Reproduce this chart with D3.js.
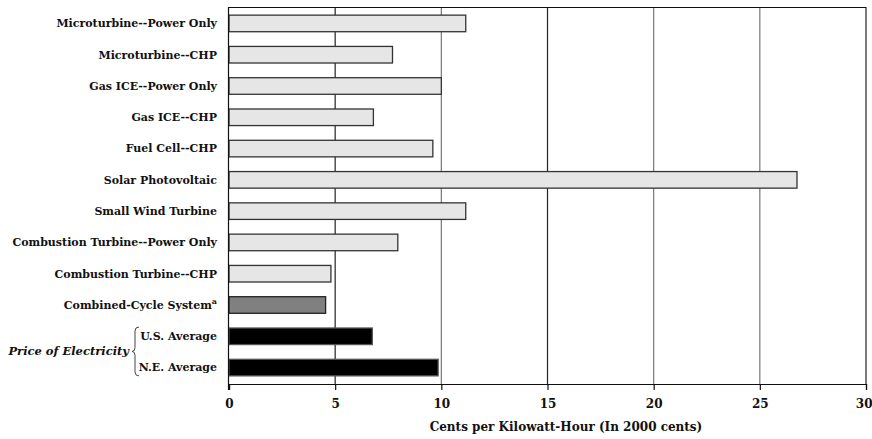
<!DOCTYPE html>
<html>
<head>
<meta charset="utf-8">
<script src="https://cdn.jsdelivr.net/npm/d3@7"></script>
<style>
  body { margin: 0; background: #fff; }
  svg text { font-family: "DejaVu Serif", "Liberation Serif", serif; font-weight: bold; fill: #111; }
</style>
</head>
<body>
<div id="chart"></div>
<script>
//////////////////////////// data /////////////////////////////////////////

const categories = [
  "Microturbine--Power Only",
  "Microturbine--CHP",
  "Gas ICE--Power Only",
  "Gas ICE--CHP",
  "Fuel Cell--CHP",
  "Solar Photovoltaic",
  "Small Wind Turbine",
  "Combustion Turbine--Power Only",
  "Combustion Turbine--CHP",
  "Combined-Cycle System",
  "U.S. Average",
  "N.E. Average"
];
const values = [11.15, 7.7, 10.0, 6.8, 9.6, 26.75, 11.15, 7.95, 4.8, 4.55, 6.75, 9.85];
const groups = ["dg", "dg", "dg", "dg", "dg", "dg", "dg", "dg", "dg", "cc", "price", "price"];
const xTicks = [0, 5, 10, 15, 20, 25, 30];
const xTitle = "Cents per Kilowatt-Hour (In 2000 cents)";
const priceLabel = "Price of Electricity";

//////////////////////////// sizes ////////////////////////////////////////

const width = 872, height = 439;
const margin = { top: 7, right: 6, bottom: 55, left: 229 };

const svg = d3.select("#chart").append("svg")
  .attr("width", width).attr("height", height);

//////////////////////////// scales ///////////////////////////////////////

const xScale = d3.scaleLinear()
  .domain([0, 30])
  .range([margin.left, width - margin.right]);

const yScale = d3.scaleBand()
  .domain(categories)
  .range([margin.top, height - margin.bottom])
  .paddingInner(0.47)
  .paddingOuter(0.26);

const fillScale = d3.scaleOrdinal()
  .domain(["dg", "cc", "price"])
  .range(["#e6e6e6", "#808080", "#000000"]);
const strokeScale = d3.scaleOrdinal()
  .domain(["dg", "cc", "price"])
  .range(["#333", "#222", "#555"]);

const yTop = margin.top, yBot = height - margin.bottom;

//////////////////////////// grid /////////////////////////////////////////

svg.append("g").selectAll("line")
  .data(xTicks.slice(1))
  .join("line")
  .attr("x1", d => xScale(d)).attr("x2", d => xScale(d))
  .attr("y1", yTop).attr("y2", yBot)
  .attr("stroke", d => (d === 15 || d === 5 || d === 30) ? "#222" : "#777")
  .attr("stroke-width", 1.2);

// top frame line
svg.append("line")
  .attr("x1", xScale(0)).attr("x2", xScale(30))
  .attr("y1", yTop + 0.5).attr("y2", yTop + 0.5)
  .attr("stroke", "#111");

//////////////////////////// bars /////////////////////////////////////////

svg.append("g").selectAll("rect")
  .data(categories)
  .join("rect")
  .attr("x", xScale(0))
  .attr("y", d => yScale(d))
  .attr("width", (d, i) => xScale(values[i]) - xScale(0))
  .attr("height", yScale.bandwidth())
  .attr("fill", (d, i) => fillScale(groups[i]))
  .attr("stroke", (d, i) => strokeScale(groups[i]))
  .attr("stroke-width", 1.3);

//////////////////////////// axes /////////////////////////////////////////

const xAxis = svg.append("g")
  .attr("transform", `translate(0,${yBot})`)
  .call(d3.axisBottom(xScale).tickValues(xTicks).tickSize(6).tickPadding(9));
xAxis.select(".domain").attr("stroke", "#111").attr("stroke-width", 1.2);
xAxis.selectAll(".tick line").attr("stroke", "#111").attr("stroke-width", 1.2);
xAxis.selectAll(".tick text").attr("font-size", 12);
// last label sits on the right edge, keep it inside the window
xAxis.selectAll(".tick text").filter(d => d === 30)
  .attr("text-anchor", "end").attr("x", 6);

// left axis line
svg.append("line")
  .attr("x1", xScale(0) - 0.5).attr("x2", xScale(0) - 0.5)
  .attr("y1", yTop).attr("y2", yBot + 6)
  .attr("stroke", "#111").attr("stroke-width", 1.2);

svg.append("text")
  .attr("x", 566)
  .attr("y", yBot + 43)
  .attr("dy", "0.35em")
  .attr("text-anchor", "middle")
  .attr("font-size", 12)
  .text(xTitle);

//////////////////////////// labels ///////////////////////////////////////

const labels = svg.append("g").selectAll("text")
  .data(categories)
  .join("text")
  .attr("x", margin.left - 12)
  .attr("y", d => yScale(d) + yScale.bandwidth() / 2)
  .attr("dy", "0.35em")
  .attr("text-anchor", "end")
  .attr("font-size", 11)
  .text(d => d);

// superscript on combined-cycle
labels.filter(d => d === "Combined-Cycle System")
  .append("tspan")
  .attr("font-size", 8)
  .attr("dy", "-0.6em")
  .text("a");

// brace + group label for price of electricity
const yUS = yScale("U.S. Average"), yNE = yScale("N.E. Average") + yScale.bandwidth();
const bTop = yUS - 1, bBot = yNE, bMid = (bTop + bBot) / 2, bx = 135;
svg.append("path")
  .attr("d", `M${bx + 4},${bTop} Q${bx},${bTop} ${bx},${bTop + 4} L${bx},${bMid - 4} Q${bx},${bMid} ${bx - 3},${bMid}` +
             ` Q${bx},${bMid} ${bx},${bMid + 4} L${bx},${bBot - 4} Q${bx},${bBot} ${bx + 4},${bBot}`)
  .attr("fill", "none")
  .attr("stroke", "#444")
  .attr("stroke-width", 1);

svg.append("text")
  .attr("x", bx - 6)
  .attr("y", bMid)
  .attr("dy", "0.35em")
  .attr("text-anchor", "end")
  .attr("font-size", 11.5)
  .attr("font-style", "italic")
  .text(priceLabel);
</script>
</body>
</html>
